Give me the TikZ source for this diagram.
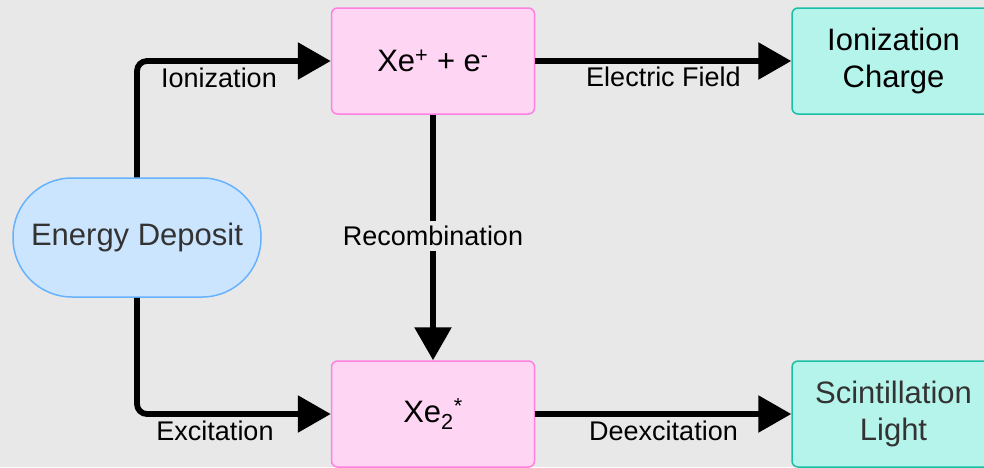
\documentclass[tikz,border=0pt]{standalone}
\usepackage{fontspec}
\setmainfont{Liberation Sans}
\usetikzlibrary{arrows.meta}
\definecolor{bg}{HTML}{E8E8E8}
\definecolor{edfill}{HTML}{CCE5FF}
\definecolor{eddraw}{HTML}{66B2FF}
\definecolor{pkfill}{HTML}{FFD5F4}
\definecolor{pkdraw}{HTML}{FF80DF}
\definecolor{tlfill}{HTML}{B5F4EA}
\definecolor{tldraw}{HTML}{1ABFA5}
\definecolor{txtgray}{HTML}{333333}
\tikzset{
  box/.style={draw, line width=1.5pt, minimum width=203pt, minimum height=106pt, inner sep=0pt, rounded corners=6pt, align=center, font=\fontsize{31}{36.5}\selectfont},
  pinkbox/.style={box, fill=pkfill, draw=pkdraw},
  tealbox/.style={box, fill=tlfill, draw=tldraw},
  conn/.style={line width=5.8pt, rounded corners=10pt, -{Triangle[length=33pt,width=36pt]}},
  lbl/.style={font=\fontsize{27}{30}\selectfont, inner sep=2pt}
}
\begin{document}
\begin{tikzpicture}[x=1pt,y=-1pt]
\fill[bg] (0,0) rectangle (984,467);
\useasboundingbox (0,0) rectangle (984,467);
\node[draw=eddraw, fill=edfill, line width=1.5pt, minimum width=248pt, minimum height=119pt, rounded corners=59pt, text=txtgray, font=\fontsize{31}{36.5}\selectfont] (ed) at (137,237.5) {Energy Deposit};
\node[pinkbox] (xi) at (433,61) {Xe\textsuperscript{+} + e\textsuperscript{-}};
\node[pinkbox] (xe) at (433,414) {Xe\textsubscript{2}\textsuperscript{*}};
\node[tealbox] (ic) at (893.5,61) {Ionization\\Charge};
\node[tealbox, text=txtgray] (sl) at (893.5,414) {Scintillation\\Light};
\draw[conn] (ed.north) |- (xi.west);
\draw[conn] (ed.south) |- (xe.west);
\draw[conn] (xi.east) -- (ic.west);
\draw[conn] (xe.east) -- (sl.west);
\draw[conn] (xi.south) -- (xe.north);
\node[lbl] (lion) at (219,77.5) {Ionization};
\node[lbl] (lexc) at (215,431) {Excitation};
\node[lbl] (lef) at (663.5,77) {Electric Field};
\node[lbl] (ldex) at (663.5,431) {Deexcitation};
\node[lbl, fill=bg, inner sep=5pt] (lrec) at (433,236) {Recombination};
\end{tikzpicture}
\end{document}
